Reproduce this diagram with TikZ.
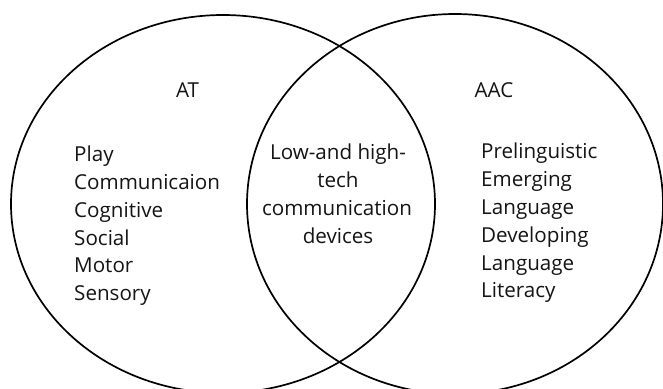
\documentclass[tikz,border=0pt]{standalone}
\usepackage{fontspec}
\setmainfont{Open Sans}
\begin{document}
\begin{tikzpicture}[x=1pt,y=-1pt,
  ring/.style={draw=black,line width=1.7pt},
  txt/.style={inner sep=0pt,font=\fontsize{20.6}{24}\selectfont,text=black!92}]
\useasboundingbox (0,0) rectangle (663,388);
\begin{scope}
\clip (0,0) rectangle (663,388);
\draw[ring] (223,204) ellipse [x radius=212, y radius=189];
\draw[ring] (455,204) ellipse [x radius=208, y radius=190];
\end{scope}
% headings
\node[txt,anchor=base] (at) at (187.5,97) {AT};
\node[txt,anchor=base] (aac) at (494,97) {AAC};
% left list
\node[txt,anchor=base west] (l1) at (74,161) {Play};
\node[txt,anchor=base west] (l2) at (74,189) {Communicaion};
\node[txt,anchor=base west] (l3) at (74,217) {Cognitive};
\node[txt,anchor=base west] (l4) at (74,245) {Social};
\node[txt,anchor=base west] (l5) at (74,272.5) {Motor};
\node[txt,anchor=base west] (l6) at (74,300) {Sensory};
% middle
\node[txt,anchor=base] (m1) at (338,159) {Low-and high-};
\node[txt,anchor=base] (m2) at (338,187) {tech};
\node[txt,anchor=base] (m3) at (337,215) {communication};
\node[txt,anchor=base] (m4) at (338,243) {devices};
% right list
\node[txt,anchor=base west] (r1) at (481,158.5) {Prelinguistic};
\node[txt,anchor=base west] (r2) at (481,186.5) {Emerging};
\node[txt,anchor=base west] (r3) at (481,214) {Language};
\node[txt,anchor=base west] (r4) at (481,242) {Developing};
\node[txt,anchor=base west] (r5) at (481,270) {Language};
\node[txt,anchor=base west] (r6) at (481,297.5) {Literacy};
\end{tikzpicture}
\end{document}
